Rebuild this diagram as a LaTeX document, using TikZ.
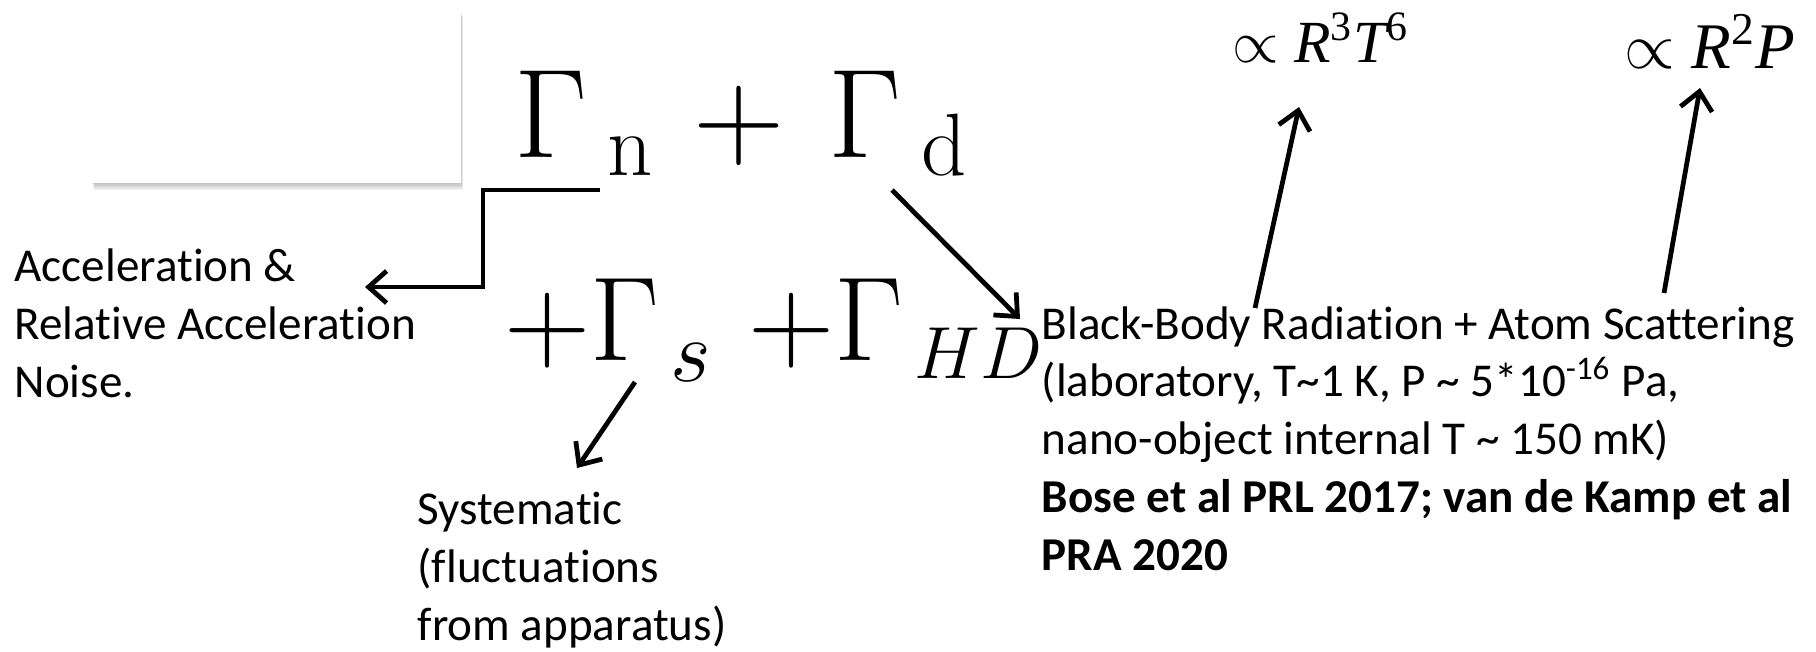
\RequirePackage{fix-cm}
\documentclass[tikz,border=0pt]{standalone}
\usepackage[no-math]{fontspec}
\setmainfont{Carlito}[Ligatures=CommonOff]
\newfontfamily\tnr{Liberation Serif}
\usetikzlibrary{arrows.meta,calc}

\begin{document}
\begin{tikzpicture}[
  x=0.01cm, y=-0.01cm,
  font=\fontsize{13.4pt}{16.4pt}\selectfont,
  lbl/.style={anchor=base west, inner sep=0pt, align=left},
  term/.style={anchor=base west, inner sep=0pt},
  arrow/.style={-{Straight Barb[length=1.8mm,width=3.2mm]}, line width=1.35pt}
]
  \fill[white] (0,0) rectangle (1816,651);
  \useasboundingbox (0,0) rectangle (1816,651);

  % empty picture frame with a soft shadow
  \coordinate (imgnw) at (92,10);
  \coordinate (imgse) at (461,183);
  \foreach \k in {1,...,5}
    \fill[black, opacity=0.05] ($(imgnw)+(0.4*\k,1.4*\k)$) rectangle ($(imgse)+(0.4*\k,1.4*\k)$);
  \fill[white] (imgnw) rectangle (imgse);

  % decoherence rates
  \node[term, font=\fontsize{36pt}{40pt}\selectfont] (gn) at (514,157) {$\Gamma_{\mkern4mu\mathrm{n}}$};
  \node[term, font=\fontsize{36pt}{40pt}\selectfont] (plus) at (693,157) {$+$};
  \node[term, font=\fontsize{36pt}{40pt}\selectfont] (gd) at (828,157) {$\Gamma_{\mkern4mu\mathrm{d}}$};
  \node[term, font=\fontsize{34pt}{38pt}\selectfont] (ps) at (504,360) {$+\Gamma$};
  \node[term, font=\fontsize{25pt}{28pt}\selectfont] (gs) at (670,381) {$s$};
  \node[term, font=\fontsize{34pt}{38pt}\selectfont] (phd) at (748,360) {$+\Gamma$};
  \node[term, font=\fontsize{21pt}{24pt}\selectfont] (ghd) at (914,378) {$HD$};

  % scalings
  \node[term, font=\fontsize{17pt}{20pt}\selectfont] (bbscale) at (1232,62)
    {$\propto$\hspace{0.25em}{\tnr\itshape R\textsuperscript{\upshape 3}T\textsuperscript{\upshape 6}}};
  \node[term, font=\fontsize{18.5pt}{22pt}\selectfont] (atscale) at (1624,68)
    {$\propto$\hspace{0.25em}{\tnr\itshape R\textsuperscript{\upshape 2}P}};

  % labels
  \node[lbl] (accel) at (14,397) {Acceleration \&\\Relative Acceleration\\Noise.};
  \node[lbl] (syst) at (417,640) {Systematic\\(fluctuations\\from apparatus)};
  \node[lbl] (bbr) at (1041,570) {Black-Body Radiation + Atom Scattering\\
    (laboratory, T\textasciitilde1 K, P \textasciitilde{} 5*10\textsuperscript{-16} Pa,\\
    nano-object internal T \textasciitilde{} 150 mK)\\
    \textbf{Bose et al PRL 2017; van de Kamp et al}\\
    \textbf{PRA 2020}};

  \draw[arrow] ($(gn.base west)+(86,33)$) -- ++(-117,0) |- ($(accel.base west)+(351,-110)$);
  \draw[arrow] ($(gd.base west)+(64,33)$) -- ($(bbr.base west)+(-21,-251)$);
  \draw[arrow] ($(gs.base west)+(-35,1)$) -- ($(syst.base west)+(160,-172)$);
  \draw[arrow] ($(bbr.base west)+(214,-262)$) -- ($(bbscale.base west)+(67,45)$);
  \draw[arrow] ($(bbr.base west)+(623,-277)$) -- ($(atscale.base west)+(76,20)$);
\end{tikzpicture}
\end{document}
